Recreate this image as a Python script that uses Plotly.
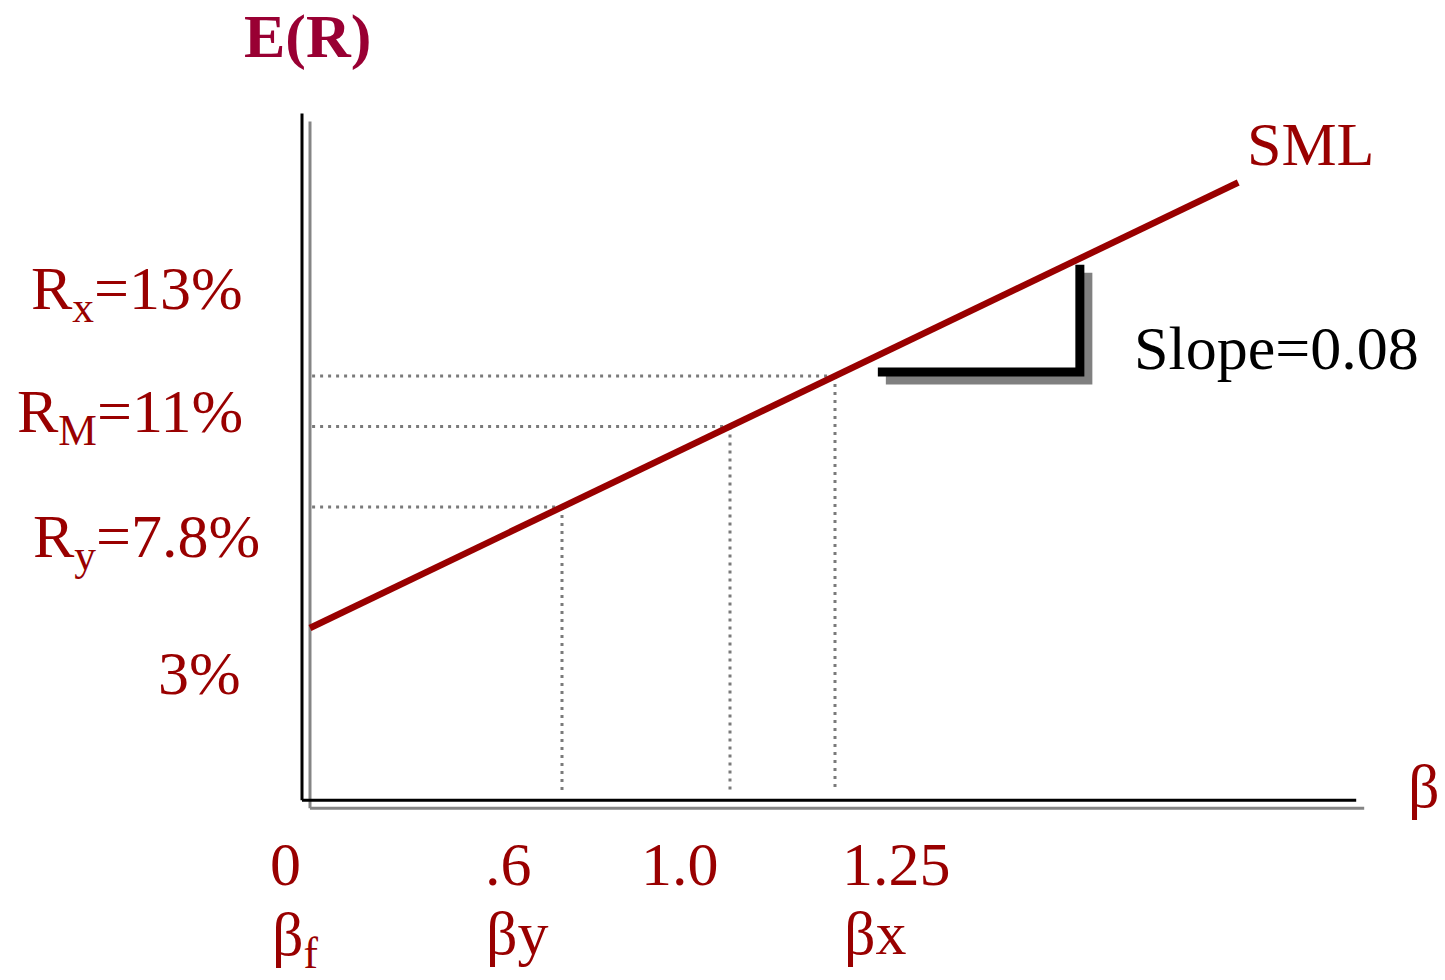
import plotly.graph_objects as go

# ---- Security market line data -------------------------------------------
risk_free = 3.0                 # E(R) at beta 0, in %
sml_beta = [0.0, 2.21]          # ends of the drawn SML
sml_return = [3.0, 20.68]       # 3% + 8% per unit of beta

asset_beta = [0.6, 1.0, 1.25]   # y, market, x
asset_return = [7.8, 11.0, 13.0]

beta_tick_vals = [0.0, 0.6, 1.0, 1.25]
beta_tick_text = ["0", ".6", "1.0", "1.25"]
beta_name_text = ["β<sub>f</sub>", "βy", "", "βx"]

return_label_vals = [13.0, 11.0, 7.8, 3.0]
return_label_text = ["R<sub>x</sub>=13%", "R<sub>M</sub>=11%", "R<sub>y</sub>=7.8%", "3%"]

# slope triangle (run along beta, rise up to the SML)
tri_beta = [1.352, 1.833]
tri_base = 13.16

# ---- canvas / scale -------------------------------------------------------
W, H = 1445, 980
PX_B = 420.0      # pixels per unit beta
PX_R = 25.2       # pixels per 1% return
X0, Y0 = 310, 628 # pixel position of (beta 0, risk-free)

x_range = [-X0 / PX_B, (W - X0) / PX_B]
y_range = [risk_free - (H - Y0) / PX_R, risk_free + Y0 / PX_R]


def bx(px):
    return px / PX_B


def ry(px):
    return px / PX_R


RED = "#990000"
TITLE_RED = "#990033"
FONT = "Liberation Serif"
GRAY = "#858585"

fig = go.Figure()

# dotted guides from each asset to the axes
gx, gy = [], []
floor_ret = -3.5
for b, r in zip(asset_beta, asset_return):
    gx += [0.005, b, None, b, b, None]
    gy += [r, r, None, r, floor_ret, None]
fig.add_trace(go.Scatter(
    x=gx, y=gy, mode="lines", hoverinfo="skip", showlegend=False,
    line=dict(color="#7a7a7a", width=3, dash="3px,5px"),
))

# the SML itself
fig.add_trace(go.Scatter(
    x=sml_beta, y=sml_return, mode="lines", hoverinfo="skip", showlegend=False,
    line=dict(color=RED, width=6.5),
))

shapes = []

# axes: gray shadow then black line shifted up-left
ax_floor, ax_top, ax_right = -4.15, 23.1, 2.51
for color, ox, oy in [(GRAY, 0, 0), ("black", bx(-8), ry(8))]:
    shapes.append(dict(type="line", xref="x", yref="y", layer="below",
                       x0=0 + ox, x1=0 + ox, y0=ax_floor + oy, y1=ax_top + oy,
                       line=dict(color=color, width=3)))
    shapes.append(dict(type="line", xref="x", yref="y", layer="below",
                       x0=0 + ox, x1=ax_right + ox, y0=ax_floor + oy, y1=ax_floor + oy,
                       line=dict(color=color, width=3)))

# slope triangle with drop shadow
tri_top = sml_return[0] + (sml_return[1] - sml_return[0]) / (sml_beta[1] - sml_beta[0]) * tri_beta[1]
for color, ox, oy in [("#808080", bx(8), ry(-8)), ("black", 0, 0)]:
    path = (f"M {tri_beta[0] + ox},{tri_base + oy} "
            f"L {tri_beta[1] + ox},{tri_base + oy} "
            f"L {tri_beta[1] + ox},{tri_top + oy - 0.25}")
    shapes.append(dict(type="path", xref="x", yref="y", layer="below", path=path,
                       line=dict(color=color, width=9)))

ann = []
big = dict(family=FONT, size=62, color=RED)

# beta values under the axis
tick_shift = [-25, -54, -50, 61]
name_shift = [-15, -45, 0, 40]
name_y = [938, 933, 933, 933]
for v, t, s in zip(beta_tick_vals, beta_tick_text, tick_shift):
    ann.append(dict(x=v, y=1 - 864 / H, xref="x", yref="paper", text=t, showarrow=False,
                    xanchor="center", yanchor="middle", xshift=s, font=big))
for v, t, s, py in zip(beta_tick_vals, beta_name_text, name_shift, name_y):
    if t:
        ann.append(dict(x=v, y=1 - py / H, xref="x", yref="paper", text=t, showarrow=False,
                        xanchor="center", yanchor="middle", xshift=s, font=big))

# return labels to the left of the axis
ret_xshift = [-65, -65, -48, -67]
ret_yshift = [84, 11, -33, -45]
for v, t, xs, ys in zip(return_label_vals, return_label_text, ret_xshift, ret_yshift):
    ann.append(dict(x=0, y=v, xref="x", yref="y", text=t, showarrow=False,
                    xanchor="right", yanchor="middle", xshift=xs, yshift=ys, font=big))

# axis titles and line labels
ann.append(dict(x=307 / W, y=1 - 36 / H, xref="paper", yref="paper", text="<b>E(R)</b>",
                showarrow=False, xanchor="center", yanchor="middle",
                font=dict(family=FONT, size=62, color=TITLE_RED)))
ann.append(dict(x=1424 / W, y=1 - 786 / H, xref="paper", yref="paper", text="β",
                showarrow=False, xanchor="center", yanchor="middle", font=big))
ann.append(dict(x=1310 / W, y=1 - 144 / H, xref="paper", yref="paper", text="SML",
                showarrow=False, xanchor="center", yanchor="middle", font=big))
ann.append(dict(x=1276 / W, y=1 - 348 / H, xref="paper", yref="paper", text="Slope=0.08",
                showarrow=False, xanchor="center", yanchor="middle",
                font=dict(family=FONT, size=62, color="black")))

fig.update_layout(
    width=W, height=H,
    margin=dict(l=0, r=0, t=0, b=0),
    paper_bgcolor="white", plot_bgcolor="white",
    xaxis=dict(range=x_range, visible=False, fixedrange=True),
    yaxis=dict(range=y_range, visible=False, fixedrange=True),
    shapes=shapes, annotations=ann,
    showlegend=False,
)

fig.write_html("out.html", config={"displayModeBar": False})
